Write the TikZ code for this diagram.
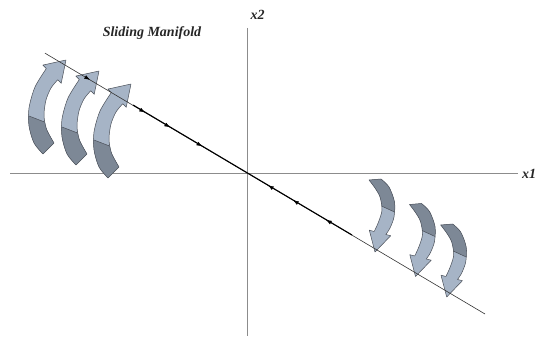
\documentclass[tikz,border=0pt]{standalone}
\usepackage{fontspec}
\setmainfont{Liberation Serif}
\usetikzlibrary{arrows.meta,decorations.markings}

\definecolor{axisgray}{HTML}{8C8C8C}
\definecolor{lineblack}{HTML}{333333}
\definecolor{arrowlight}{HTML}{A6B4C6}
\definecolor{arrowdark}{HTML}{7D8896}
\definecolor{arrowedge}{HTML}{4A4F58}

\newcommand{\LArrowPath}{(0,0) -- (-4.8,23.3) -- (-8.3,19.8) -- plot[smooth] coordinates {(-8.3,19.8) (-15,28) (-20,40) (-22,55) (-19.5,69) (-12,83)} -- (-23,94) -- plot[smooth] coordinates {(-23,94) (-32,83) (-37,66) (-37,48) (-31,27) (-19.7,8.6)} -- (-23.2,5.1) -- cycle}

\newcommand{\RArrowPath}{(0,0) -- (-5.7,-21.8) -- (-0.8,-20.5) -- plot[smooth] coordinates {(-0.8,-20.5) (3.5,-30) (7,-42) (5,-55) (0,-64) (-6,-72)} -- (6,-73) -- plot[smooth] coordinates {(6,-73) (14,-65) (19.5,-50) (19,-35) (15,-24) (10.8,-17.5)} -- (15.7,-16.3) -- cycle}

\newcommand{\DrawLArrow}[1]{%
  \begin{scope}[shift={#1}]
    \fill[arrowlight] \LArrowPath;
    \begin{scope}
      \clip \LArrowPath;
      \fill[arrowdark] (-60,45) -- (-37,56) -- (-21.5,62) -- (15,75) -- (15,120) -- (-60,120) -- cycle;
    \end{scope}
    \draw[arrowout] (-37,56) -- (-21.5,62);
    \draw[arrowout] \LArrowPath;
  \end{scope}}

\newcommand{\DrawRArrow}[1]{%
  \begin{scope}[shift={#1}]
    \fill[arrowlight] \RArrowPath;
    \begin{scope}
      \clip \RArrowPath;
      \fill[arrowdark] (-20,-100) -- (30,-100) -- (30,-37) -- (19.5,-40) -- (6.5,-46) -- (-20,-58) -- cycle;
    \end{scope}
    \draw[arrowout] (6.5,-46) -- (19.5,-40);
    \draw[arrowout] \RArrowPath;
  \end{scope}}

\tikzset{
  axisline/.style={draw=axisgray, line width=0.8pt},
  manifold/.style={draw=lineblack, line width=0.6pt},
  trajline/.style={draw=black, line width=1.1pt},
  lbl/.style={font=\bfseries\itshape\fontsize{14}{16}\selectfont, text=black!85, inner sep=0pt},
  arrowout/.style={draw=arrowedge, line width=0.5pt, line join=round},
}

\begin{document}
\begin{tikzpicture}[x=1pt,y=-1pt]
\useasboundingbox (0,0) rectangle (538,347);

% labels
\node[lbl] (lx1) at (529,174) {x1};
\node[lbl] (lx2) at (257.5,15) {x2};
\node[lbl] (title) at (152,33) {Sliding Manifold};

% axes
\coordinate (ax1l) at (10,173);
\coordinate (ax1r) at (518,173);
\coordinate (ax2t) at (247.5,28);
\coordinate (ax2b) at (247.5,336);
\coordinate (O) at (247.5,173);
\draw[axisline] (ax1l) -- (ax1r);
\draw[axisline] (ax2t) -- (ax2b);

% curved arrows (left)
\DrawLArrow{(66,60)}
\DrawLArrow{(99,71)}
\DrawLArrow{(131,84)}

% curved arrows (right)
\DrawRArrow{(375,252)}
\DrawRArrow{(415.5,276.5)}
\DrawRArrow{(446.7,297)}

% sliding manifold line
\coordinate (m1) at (45,53.2);
\coordinate (m2) at (485,314);
\coordinate (tj1) at (133,105);
\coordinate (tj2) at (352,235);
\draw[manifold] (m1) -- (m2);
\draw[trajline] (tj1) -- (O);
\draw[trajline] (O) -- (tj2);
\path (m1) -- (m2) [decorate, decoration={markings,
   mark=at position 0.102 with {\arrow{Latex[length=5.5pt,width=4pt]}},
   mark=at position 0.227 with {\arrow{Latex[length=5.5pt,width=4pt]}},
   mark=at position 0.284 with {\arrow{Latex[length=5.5pt,width=4pt]}},
   mark=at position 0.357 with {\arrow{Latex[length=5.5pt,width=4pt]}},
   mark=at position 0.507 with {\arrowreversed{Latex[length=5.5pt,width=4pt]}},
   mark=at position 0.564 with {\arrowreversed{Latex[length=5.5pt,width=4pt]}},
   mark=at position 0.639 with {\arrowreversed{Latex[length=5.5pt,width=4pt]}}}];
\end{tikzpicture}
\end{document}
